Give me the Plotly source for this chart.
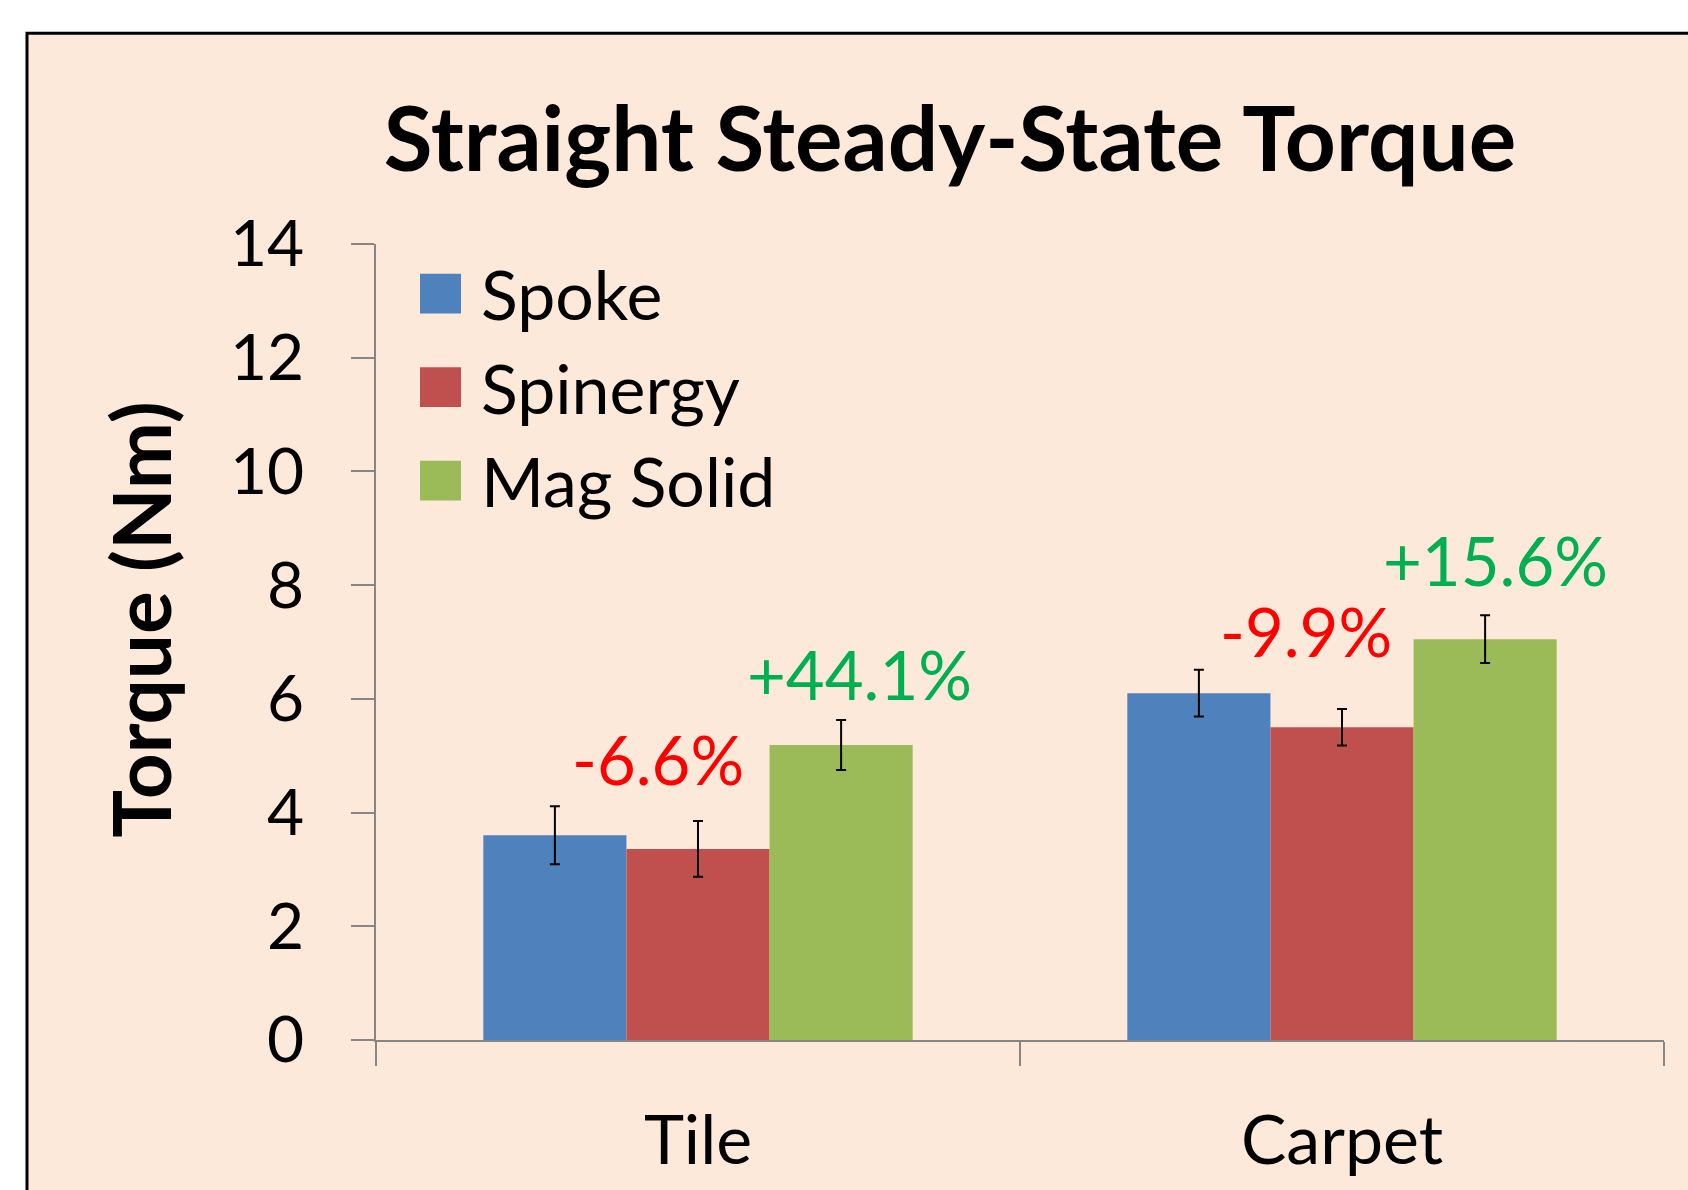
import plotly.graph_objects as go

surfaces = ["Tile", "Carpet"]
wheels = ["Spoke", "Spinergy", "Mag Solid"]
torque = {
    "Spoke": [3.60, 6.10],
    "Spinergy": [3.36, 5.50],
    "Mag Solid": [5.19, 7.05],
}
torque_sd = {
    "Spoke": [0.51, 0.41],
    "Spinergy": [0.49, 0.32],
    "Mag Solid": [0.44, 0.42],
}
colors = ["#4F81BD", "#C0504D", "#9BBB59"]
# percentage change vs Spoke, per surface
pct_labels = {
    "Spinergy": ["-6.6%", "-9.9%"],
    "Mag Solid": ["+44.1%", "+15.6%"],
}
pct_colors = {"Spinergy": "#FF0000", "Mag Solid": "#00B050"}

W, H = 1688, 1190
L, R, T, B = 376, 24, 244, 145
FONT = "Lato"


def px(x):
    return (x - L) / (W - L - R)


def py(y):
    return (H - B - y) / (H - T - B)


fig = go.Figure()
for i, w in enumerate(wheels):
    fig.add_trace(go.Bar(
        x=surfaces,
        y=torque[w],
        name=w,
        marker=dict(color=colors[i], line_width=0),
        error_y=dict(type='data', array=torque_sd[w], color='black',
                     thickness=2, width=5),
    ))

annotations = []
# labels over Spinergy / Mag Solid bars
offsets = {"Spinergy": (0.0, [-40, -36], [62, 78]),
           "Mag Solid": (2 / 9, [18, 10], [46, 55])}
for w, (dx, xs, ys) in offsets.items():
    for j, s in enumerate(surfaces):
        annotations.append(dict(
            x=j + dx, y=torque[w][j] + torque_sd[w][j], xref='x', yref='y',
            text=pct_labels[w][j], showarrow=False,
            xshift=xs[j], yshift=ys[j], xanchor='center', yanchor='middle',
            font=dict(family=FONT, size=67, color=pct_colors[w])))

# legend drawn by hand so the swatches are large
shapes = [dict(type='rect', xref='paper', yref='paper',
               x0=px(27), x1=px(1750), y0=py(1250), y1=py(32),
               fillcolor='#FDE9D9', line=dict(color='black', width=3),
               layer='below')]
for i, w in enumerate(wheels):
    cy = 294 + i * 94
    shapes.append(dict(type='rect', xref='paper', yref='paper',
                       x0=px(420), x1=px(461), y0=py(cy + 20), y1=py(cy - 20),
                       fillcolor=colors[i], line_width=0))
    annotations.append(dict(x=px(479), y=py(cy), xref='paper', yref='paper',
                            text=w, showarrow=False, xanchor='left', yanchor='middle',
                            font=dict(family=FONT, size=68, color='black')))

annotations.append(dict(x=px(140), y=py(622), xref='paper', yref='paper',
                        text="<b>Torque (Nm)</b>", textangle=-90, showarrow=False,
                        xanchor='center', yanchor='middle',
                        font=dict(family=FONT, size=80, color='black')))

fig.update_layout(
    width=W, height=H,
    margin=dict(l=L, r=R, t=T, b=B),
    paper_bgcolor='white',
    plot_bgcolor='white',
    barmode='group',
    bargap=1 / 3,
    bargroupgap=0,
    showlegend=False,
    title=dict(text="<b>Straight Steady-State Torque</b>", x=950 / W, xanchor='center',
               y=1 - 140 / H, yanchor='middle', yref='container',
               font=dict(family=FONT, size=89, color='black')),
    font=dict(family=FONT, color='black'),
    annotations=annotations,
    shapes=shapes,
    xaxis=dict(showline=True, linecolor='#868686', linewidth=2,
               ticks='outside', tickson='boundaries', ticklen=24, tickcolor='#868686',
               tickwidth=2, tickfont=dict(size=68), ticklabelstandoff=40,
               showgrid=False),
    yaxis=dict(range=[0, 14], dtick=2, showline=True, linecolor='#868686', linewidth=2,
               ticks='outside', ticklen=23, tickcolor='#868686', tickwidth=2,
               tickfont=dict(size=64), ticklabelstandoff=34, showgrid=False,
               zeroline=False),
)

fig.write_html("out.html", config={'displayModeBar': False},
               post_script="document.body.style.margin='0';")
